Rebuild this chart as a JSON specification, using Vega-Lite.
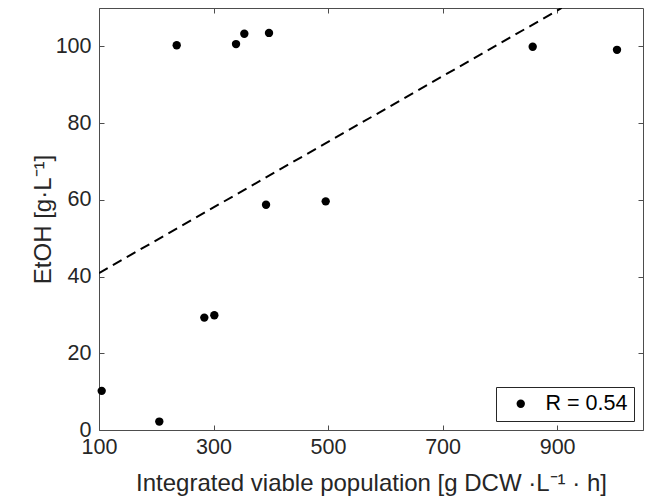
{
  "$schema": "https://vega.github.io/schema/vega-lite/v6.json",
  "width": 544,
  "height": 422,
  "autosize": {"type": "none"},
  "padding": {"left": 99, "top": 8, "right": 5, "bottom": 66},
  "background": "white",
  "config": {
    "view": {"stroke": null},
    "font": "Liberation Sans",
    "axis": {
      "grid": false,
      "domainColor": "#4d4d4d",
      "domainWidth": 1,
      "tickColor": "#4d4d4d",
      "tickSize": -5,
      "tickWidth": 1,
      "labelFlush": false,
      "labelFont": "Liberation Sans",
      "labelFontSize": 21.5,
      "labelColor": "#262626",
      "titleFont": "Liberation Sans",
      "titleFontSize": 24,
      "titleFontWeight": "normal",
      "titleColor": "#262626"
    },
    "legend": {
      "labelFont": "Liberation Sans",
      "labelFontSize": 21.5,
      "labelColor": "#000000"
    }
  },
  "datasets": {
    "points": [
      {"pop": 104.7, "etoh": 10.2},
      {"pop": 205.3, "etoh": 2.2},
      {"pop": 235.7, "etoh": 100.3},
      {"pop": 283.9, "etoh": 29.3},
      {"pop": 301.4, "etoh": 29.9},
      {"pop": 339.3, "etoh": 100.6},
      {"pop": 353.8, "etoh": 103.3},
      {"pop": 391.7, "etoh": 58.7},
      {"pop": 396.9, "etoh": 103.5},
      {"pop": 495.9, "etoh": 59.6},
      {"pop": 857.4, "etoh": 99.9},
      {"pop": 1004.6, "etoh": 99.1}
    ],
    "fit": [
      {"pop": 100, "etoh": 40.9},
      {"pop": 908, "etoh": 110}
    ]
  },
  "layer": [
    {
      "data": {"name": "fit"},
      "mark": {"type": "line", "color": "black", "strokeWidth": 2, "strokeDash": [10, 6], "clip": true},
      "encoding": {
        "x": {
          "field": "pop", "type": "quantitative",
          "scale": {"domain": [100, 1050], "nice": false, "zero": false},
          "axis": {
            "orient": "bottom",
            "values": [100, 300, 500, 700, 900],
            "title": "Integrated viable population [g DCW ·L⁻¹ · h]",
            "labelPadding": 11,
            "titlePadding": 14
          }
        },
        "y": {
          "field": "etoh", "type": "quantitative",
          "scale": {"domain": [0, 110], "nice": false},
          "axis": {
            "orient": "left",
            "values": [0, 20, 40, 60, 80, 100],
            "title": "EtOH [g·L⁻¹]",
            "labelPadding": 13,
            "titlePadding": 0
          }
        }
      }
    },
    {
      "data": {"name": "points"},
      "mark": {"type": "point", "filled": true, "size": 70, "opacity": 1, "shape": "circle"},
      "encoding": {
        "x": {
          "field": "pop", "type": "quantitative",
          "axis": {"orient": "top", "values": [100, 300, 500, 700, 900], "labels": false, "title": null}
        },
        "y": {
          "field": "etoh", "type": "quantitative",
          "axis": {"orient": "right", "values": [0, 20, 40, 60, 80, 100], "labels": false, "title": null}
        },
        "color": {
          "datum": "R = 0.54",
          "scale": {"range": ["black"]},
          "legend": {
            "title": null,
            "orient": "bottom-right",
            "offset": 9,
            "strokeColor": "#262626",
            "fillColor": "white",
            "padding": 6,
            "symbolType": "circle",
            "symbolSize": 70,
            "symbolOffset": 8,
            "labelOffset": 14
          }
        }
      }
    }
  ]
}
